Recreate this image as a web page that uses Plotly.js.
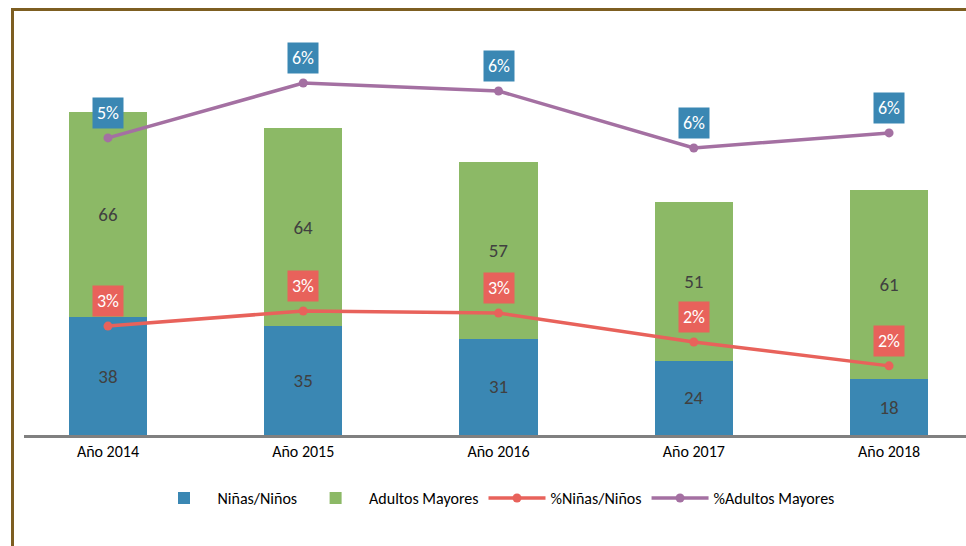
<!DOCTYPE html>
<html>
<head>
<meta charset="utf-8">
<script src="https://cdn.plot.ly/plotly-3.0.1.min.js"></script>
<style>
html,body{margin:0;padding:0;background:#fff;overflow:hidden;}
#frame{position:absolute;left:11px;top:8px;width:2000px;height:2000px;border-top:3px solid #7d5e21;border-left:3px solid #7d5e21;pointer-events:none;z-index:5;}
#chart{position:absolute;left:0;top:0;width:966px;height:546px;}
</style>
</head>
<body>
<div id="frame"></div>
<div id="chart"></div>
<script>
// Data
var years = ['Año 2014', 'Año 2015', 'Año 2016', 'Año 2017', 'Año 2018'];
var ninos = [38, 35, 31, 24, 18];
var adultos = [66, 64, 57, 51, 61];
var pctNinos = [0.026, 0.0296, 0.0291, 0.0222, 0.0165];
var pctAdultos = [0.0709, 0.0840, 0.0821, 0.0685, 0.0721];
var pctNinosLabels = ['3%', '3%', '3%', '2%', '2%'];
var pctAdultosLabels = ['5%', '6%', '6%', '6%', '6%'];

var cBlue = '#3a87b3', cGreen = '#8cb966', cRed = '#e8625b', cPurple = '#a470a2';
var txt = '#404040';
var fontFam = 'Carlito, "Open Sans", "Noto Sans", sans-serif';

var traces = [
  {type:'bar', name:'Niñas/Niños', x:years, y:ninos, marker:{color:cBlue}, width:0.4,
   text:ninos.map(String), textposition:'inside', insidetextanchor:'middle',
   textfont:{color:txt, size:19, family:fontFam}, hoverinfo:'none'},
  {type:'bar', name:'Adultos Mayores', x:years, y:adultos, marker:{color:cGreen}, width:0.4,
   text:adultos.map(String), textposition:'inside', insidetextanchor:'middle',
   textfont:{color:txt, size:19, family:fontFam}, hoverinfo:'none'},
  {type:'scatter', mode:'lines+markers', name:'%Niñas/Niños', x:years, y:pctNinos, yaxis:'y2',
   line:{color:cRed, width:3.5}, marker:{color:cRed, size:9}, hoverinfo:'none'},
  {type:'scatter', mode:'lines+markers', name:'%Adultos Mayores', x:years, y:pctAdultos, yaxis:'y2',
   line:{color:cPurple, width:3.5}, marker:{color:cPurple, size:9}, hoverinfo:'none'}
];

var annotations = [];
function addLabels(vals, labels, color){
  for (var i = 0; i < vals.length; i++){
    annotations.push({x:years[i], y:vals[i], xref:'x', yref:'y2', text:labels[i],
      showarrow:false, yshift:25, bgcolor:color, borderpad:4,
      font:{color:'#ffffff', size:18, family:fontFam}});
  }
}
addLabels(pctNinos, pctNinosLabels, cRed);
addLabels(pctAdultos, pctAdultosLabels, cBlue);

var layout = {
  width:966, height:546,
  margin:{l:24, r:0, t:16, b:111},
  paper_bgcolor:'rgba(0,0,0,0)', plot_bgcolor:'rgba(0,0,0,0)',
  barmode:'stack',
  showlegend:true,
  legend:{orientation:'h', x:0.5, xanchor:'center', y:-0.11, yanchor:'top',
    font:{size:16, color:'#000', family:fontFam}, itemwidth:57, traceorder:'normal'},
  xaxis:{type:'category', range:[-0.43, 4.394], showline:true, linecolor:'#808080', linewidth:2.5,
    ticks:'', showgrid:false, zeroline:false,
    tickfont:{size:16, color:'#000', family:fontFam}},
  yaxis:{range:[0,135], visible:false, showgrid:false, zeroline:false},
  yaxis2:{range:[0,0.1], overlaying:'y', side:'right', visible:false, showgrid:false, zeroline:false},
  annotations:annotations
};

Plotly.newPlot('chart', traces, layout, {displayModeBar:false, staticPlot:true});
</script>
</body>
</html>
